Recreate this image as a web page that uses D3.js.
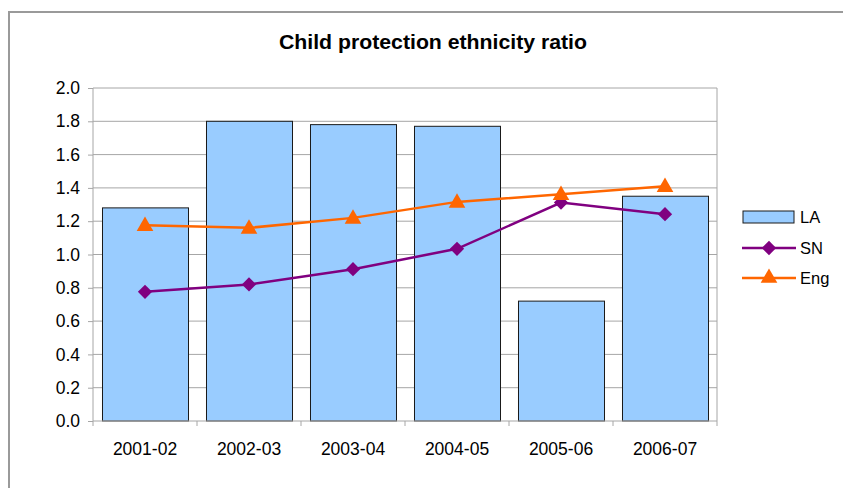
<!DOCTYPE html>
<html>
<head>
<meta charset="utf-8">
<script src="https://cdn.jsdelivr.net/npm/d3@7"></script>
<style>
  html, body { margin: 0; padding: 0; background: #fff; }
  svg { display: block; font-family: "Liberation Sans", Arial, sans-serif; }
</style>
</head>
<body>
<svg id="chart" width="843" height="488"></svg>
<script>
const categories = ["2001-02", "2002-03", "2003-04", "2004-05", "2005-06", "2006-07"];
const laValues  = [1.28, 1.80, 1.78, 1.77, 0.72, 1.35];
const snValues  = [0.776, 0.82, 0.912, 1.034, 1.312, 1.242];
const engValues = [1.176, 1.16, 1.22, 1.316, 1.362, 1.41];
const yTicks = [0, 0.2, 0.4, 0.6, 0.8, 1.0, 1.2, 1.4, 1.6, 1.8, 2.0];
const title = "Child protection ethnicity ratio";
const seriesNames = ["LA", "SN", "Eng"];

const svg = d3.select("#chart");
const plot = { left: 93, right: 717, top: 88, bottom: 421 };

// outer chart border
svg.append("rect")
  .attr("x", 9).attr("y", 12).attr("width", 900).attr("height", 600)
  .attr("fill", "#fff").attr("stroke", "#9a9a9a").attr("stroke-width", 2);

svg.append("text")
  .attr("x", 279).attr("y", 49)
  .attr("font-size", 20).attr("font-weight", "bold")
  .attr("textLength", 308).attr("lengthAdjust", "spacingAndGlyphs")
  .attr("fill", "#000")
  .text(title);

const x = d3.scaleBand().domain(categories).range([plot.left, plot.right])
  .paddingInner(0.173).paddingOuter(0.0865);
const y = d3.scaleLinear().domain([0, 2]).range([plot.bottom, plot.top]);

// gridlines
svg.append("g").selectAll("line").data(yTicks.filter(d => d > 0)).join("line")
  .attr("x1", plot.left).attr("x2", plot.right)
  .attr("y1", d => y(d)).attr("y2", d => y(d))
  .attr("stroke", "#a6a6a6").attr("stroke-width", 1);

// right plot border
svg.append("line")
  .attr("x1", plot.right).attr("x2", plot.right)
  .attr("y1", plot.top).attr("y2", plot.bottom)
  .attr("stroke", "#a6a6a6").attr("stroke-width", 1);

// bars
svg.append("g").selectAll("rect").data(laValues).join("rect")
  .attr("x", (d, i) => x(categories[i]) + 0.5)
  .attr("y", d => y(d))
  .attr("width", x.bandwidth())
  .attr("height", d => plot.bottom - y(d))
  .attr("fill", "#99ccff").attr("stroke", "#1a1a1a").attr("stroke-width", 1);

// y axis
const yAxis = d3.axisLeft(y).tickValues(yTicks).tickFormat(d3.format(".1f")).tickSize(5).tickPadding(8);
const gy = svg.append("g").attr("transform", `translate(${plot.left},0)`).call(yAxis);
gy.select(".domain").attr("stroke", "#a6a6a6").attr("d", `M0,${plot.top}V${plot.bottom}`);
gy.selectAll(".tick line").attr("stroke", "#a6a6a6");
gy.selectAll("text").attr("font-size", 17.5).attr("fill", "#000")
  .attr("font-family", "Liberation Sans, Arial, sans-serif");

// x axis
const xAxis = d3.axisBottom(x).tickSize(0).tickPadding(22);
const gx = svg.append("g").attr("transform", `translate(0,${plot.bottom})`).call(xAxis);
gx.select(".domain").attr("stroke", "#a6a6a6").attr("d", `M${plot.left},0H${plot.right}`);
gx.selectAll("text").attr("font-size", 17.5).attr("fill", "#000")
  .attr("font-family", "Liberation Sans, Arial, sans-serif");
// category boundary ticks
const step = x.step();
svg.append("g").selectAll("line").data(d3.range(categories.length + 1)).join("line")
  .attr("x1", i => plot.left + i * step).attr("x2", i => plot.left + i * step)
  .attr("y1", plot.bottom).attr("y2", plot.bottom + 5)
  .attr("stroke", "#a6a6a6");

const cx = i => x(categories[i]) + x.bandwidth() / 2;
const line = d3.line().x((d, i) => cx(i)).y(d => y(d));

const diamond = d3.symbol().type(d3.symbolDiamond2).size(130);
const triangle = d3.symbol().type(d3.symbolTriangle).size(120);

// SN
svg.append("path").datum(snValues).attr("d", line)
  .attr("fill", "none").attr("stroke", "#800080").attr("stroke-width", 2.5);
svg.append("g").selectAll("path").data(snValues).join("path")
  .attr("d", diamond)
  .attr("transform", (d, i) => `translate(${cx(i)},${y(d)})`)
  .attr("fill", "#800080");

// Eng
svg.append("path").datum(engValues).attr("d", line)
  .attr("fill", "none").attr("stroke", "#ff6600").attr("stroke-width", 2.5);
svg.append("g").selectAll("path").data(engValues).join("path")
  .attr("d", triangle)
  .attr("transform", (d, i) => `translate(${cx(i)},${y(d) + 1})`)
  .attr("fill", "#ff6600");

// legend
const lg = svg.append("g");
lg.append("rect").attr("x", 743).attr("y", 211).attr("width", 51).attr("height", 12)
  .attr("fill", "#99ccff").attr("stroke", "#1a1a1a");
lg.append("line").attr("x1", 742).attr("x2", 796).attr("y1", 248).attr("y2", 248)
  .attr("stroke", "#800080").attr("stroke-width", 2.5);
lg.append("path").attr("d", diamond).attr("transform", "translate(769,248)").attr("fill", "#800080");
lg.append("line").attr("x1", 742).attr("x2", 796).attr("y1", 278).attr("y2", 278)
  .attr("stroke", "#ff6600").attr("stroke-width", 2.5);
lg.append("path").attr("d", triangle).attr("transform", "translate(769,278)").attr("fill", "#ff6600");
const ly = [217, 248, 278];
lg.selectAll("text").data(seriesNames).join("text")
  .attr("x", 800).attr("y", (d, i) => ly[i]).attr("dy", "0.36em")
  .attr("font-size", 16.5).attr("fill", "#000")
  .text(d => d);
</script>
</body>
</html>
